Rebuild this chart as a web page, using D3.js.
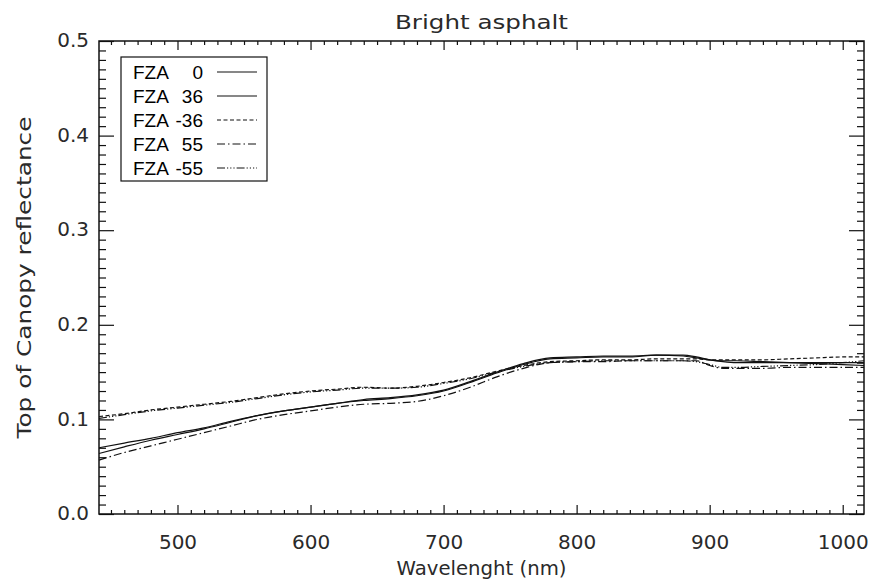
<!DOCTYPE html>
<html>
<head>
<meta charset="utf-8">
<script src="https://cdn.jsdelivr.net/npm/d3@7"></script>
<style>
  html, body { margin: 0; padding: 0; background: #fff; }
  svg { display: block; }
  .tick text { font-family: "DejaVu Sans", sans-serif; fill: #2a2a2a; }
</style>
</head>
<body>
<svg id="chart" width="871" height="582"></svg>
<script>
// ---------- data ----------
const wavelengths = [441,460,480,500,520,540,560,580,600,620,640,660,680,700,720,740,760,780,800,820,840,860,880,890,900,910,920,940,960,980,1000,1016];
const fza0   = [.064,.071,.078,.084,.090,.097,.104,.109,.113,.117,.120,.122,.125,.130,.139,.149,.158,.164,.165,.166,.166,.168,.167,.165,.163,.162,.162,.161,.160,.159,.158,.157];
const fza36  = [.070,.075,.080,.086,.091,.098,.104,.109,.113,.117,.121,.123,.126,.131,.140,.150,.159,.165,.166,.167,.167,.168,.168,.166,.163,.161,.160,.160,.160,.160,.160,.160];
const fzaM36 = [.103,.106,.110,.113,.116,.119,.123,.127,.130,.132,.134,.133,.135,.139,.144,.151,.157,.161,.162,.163,.163,.164,.164,.164,.163,.163,.163,.163,.164,.165,.166,.166];
const fza55  = [.057,.065,.072,.079,.086,.093,.100,.105,.109,.113,.116,.117,.119,.125,.134,.145,.154,.160,.161,.161,.162,.162,.162,.162,.157,.154,.154,.154,.155,.155,.155,.155];
const fzaM55 = [.101,.105,.109,.112,.115,.118,.122,.126,.129,.131,.133,.133,.134,.138,.143,.150,.156,.160,.161,.162,.162,.162,.162,.161,.158,.155,.155,.156,.157,.158,.160,.162];

const seriesNames = ["0", "36", "-36", "55", "-55"];
const seriesValues = [fza0, fza36, fzaM36, fza55, fzaM55];
const seriesDash = ["none", "none", "4,2.5", "8,3,1.5,3", "8,2,1.2,2,1.2,2,1.2,2"];

const xTicks = [500, 600, 700, 800, 900, 1000];
const yTicks = [0.0, 0.1, 0.2, 0.3, 0.4, 0.5];
const titleText = "Bright asphalt";
const xTitle = "Wavelenght (nm)";
const yTitle = "Top of Canopy reflectance";

// ---------- layout ----------
const svg = d3.select("#chart");
const L = 99, R = 864, T = 41, B = 514;
const x = d3.scaleLinear().domain([441, 1016]).range([L, R]);
const y = d3.scaleLinear().domain([0, 0.5]).range([B, T]);

const fontMain = '"DejaVu Sans", sans-serif';
const textFill = "#2a2a2a";

// minor ticks
const xMinor = d3.range(450, 1016, 10).filter(v => v % 100 !== 0);
const yMinor = d3.range(1, 50).map(v => v / 100).filter((v, i) => (i + 1) % 10 !== 0);

function styleAxis(g) {
  g.select(".domain").remove();
  g.selectAll(".tick line").attr("stroke", "#111").attr("stroke-width", 1.2);
}

// bottom
svg.append("g").attr("transform", `translate(0,${B})`)
  .call(d3.axisBottom(x).tickValues(xMinor).tickSize(-4).tickFormat(""))
  .call(styleAxis);
svg.append("g").attr("transform", `translate(0,${B})`)
  .call(d3.axisBottom(x).tickValues(xTicks).tickSize(-9).tickPadding(21).tickFormat(d3.format("d")))
  .call(styleAxis)
  .call(g => g.selectAll(".tick text").attr("font-size", 20).attr("dy", "0.71em"));
// top
svg.append("g").attr("transform", `translate(0,${T})`)
  .call(d3.axisTop(x).tickValues(xMinor).tickSize(-4).tickFormat(""))
  .call(styleAxis);
svg.append("g").attr("transform", `translate(0,${T})`)
  .call(d3.axisTop(x).tickValues(xTicks).tickSize(-9).tickFormat(""))
  .call(styleAxis);
// left
svg.append("g").attr("transform", `translate(${L},0)`)
  .call(d3.axisLeft(y).tickValues(yMinor).tickSize(-7).tickFormat(""))
  .call(styleAxis);
svg.append("g").attr("transform", `translate(${L},0)`)
  .call(d3.axisLeft(y).tickValues(yTicks).tickSize(-15).tickPadding(10).tickFormat(d3.format(".1f")))
  .call(styleAxis)
  .call(g => g.selectAll(".tick text").attr("font-size", 20).attr("dy", "0.28em"));
// right
svg.append("g").attr("transform", `translate(${R},0)`)
  .call(d3.axisRight(y).tickValues(yMinor).tickSize(-7).tickFormat(""))
  .call(styleAxis);
svg.append("g").attr("transform", `translate(${R},0)`)
  .call(d3.axisRight(y).tickValues(yTicks).tickSize(-15).tickFormat(""))
  .call(styleAxis);

// frame
svg.append("rect").attr("x", L).attr("y", T).attr("width", R - L).attr("height", B - T)
  .attr("fill", "none").attr("stroke", "#111").attr("stroke-width", 1.5);

// lines
const line = d3.line().x((d, i) => x(wavelengths[i])).y(d => y(d)).curve(d3.curveMonotoneX);
svg.append("g").selectAll("path").data(seriesValues).join("path")
  .attr("d", d => line(d))
  .attr("fill", "none").attr("stroke", "#111").attr("stroke-width", 1.2)
  .attr("stroke-dasharray", (d, i) => seriesDash[i]);

// titles
svg.append("text").attr("x", (L + R) / 2).attr("y", 29).attr("text-anchor", "middle")
  .attr("font-family", fontMain).attr("font-size", 19).attr("fill", textFill)
  .attr("textLength", 173).attr("lengthAdjust", "spacingAndGlyphs").text(titleText);
svg.append("text").attr("x", (L + R) / 2).attr("y", 575).attr("text-anchor", "middle")
  .attr("font-family", fontMain).attr("font-size", 19).attr("fill", textFill)
  .attr("textLength", 170).attr("lengthAdjust", "spacingAndGlyphs").text(xTitle);
svg.append("text").attr("transform", `translate(31,${(T + B) / 2}) rotate(-90)`).attr("text-anchor", "middle")
  .attr("font-family", fontMain).attr("font-size", 19).attr("fill", textFill)
  .attr("textLength", 322).attr("lengthAdjust", "spacingAndGlyphs").text(yTitle);

// legend
const lg = svg.append("g");
lg.append("rect").attr("x", 121).attr("y", 57).attr("width", 146).attr("height", 124)
  .attr("fill", "#fff").attr("stroke", "#111").attr("stroke-width", 1.2);
const rowY = i => 72 + i * 24;
const rows = lg.selectAll("g.row").data(seriesNames).join("g").attr("class", "row");
rows.append("text").attr("x", 133).attr("y", (d, i) => rowY(i) + 6.5)
  .attr("font-family", '"Liberation Sans", Arial, sans-serif').attr("font-size", 19).attr("fill", "#000")
  .text("FZA");
rows.append("text").attr("x", 203).attr("y", (d, i) => rowY(i) + 6.5).attr("text-anchor", "end")
  .attr("font-family", '"Liberation Sans", Arial, sans-serif').attr("font-size", 19).attr("fill", "#000")
  .text(d => d);
rows.append("line").attr("x1", 217).attr("x2", 257)
  .attr("y1", (d, i) => rowY(i)).attr("y2", (d, i) => rowY(i))
  .attr("stroke", "#111").attr("stroke-width", 1.2)
  .attr("stroke-dasharray", (d, i) => seriesDash[i]);
</script>
</body>
</html>
